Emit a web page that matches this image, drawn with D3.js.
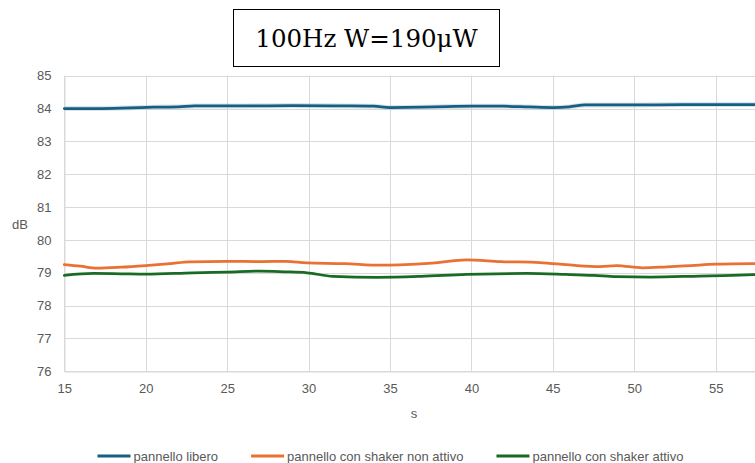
<!DOCTYPE html>
<html>
<head>
<meta charset="utf-8">
<script src="https://cdn.jsdelivr.net/npm/d3@7"></script>
<style>
  html, body { margin: 0; padding: 0; background: #fff; overflow: hidden; }
  svg { display: block; }
</style>
</head>
<body>
<svg id="chart" width="755" height="463"></svg>
<script>
// Sound level (dB) over time (s) for the three panel configurations
const titleText = "100Hz W=190μW";
const seriesNames = ["pannello libero", "pannello con shaker non attivo", "pannello con shaker attivo"];
const seriesColors = ["#156082", "#E97132", "#196B24"];

const liberoTime = [15, 17, 19, 20.5, 22, 23, 26, 29, 32, 34, 35, 37, 38.5, 40, 42, 43.5, 45, 46, 47, 50, 53, 55, 57.6];
const liberoDb   = [84.00, 84.00, 84.02, 84.04, 84.05, 84.08, 84.08, 84.09, 84.08, 84.07, 84.03, 84.04, 84.06, 84.07, 84.07, 84.05, 84.03, 84.05, 84.11, 84.11, 84.12, 84.12, 84.12];

const nonAttivoTime = [15, 16, 17, 18.5, 20, 21.5, 22.7, 25, 27, 28.6, 29.9, 32.2, 34.4, 35.6, 37.6, 39.7, 41.8, 44.2, 46.2, 47.9, 48.9, 50.5, 52, 53.5, 55, 57.6];
const nonAttivoDb   = [79.25, 79.20, 79.14, 79.17, 79.22, 79.28, 79.33, 79.35, 79.34, 79.35, 79.30, 79.28, 79.23, 79.24, 79.29, 79.39, 79.34, 79.31, 79.23, 79.19, 79.22, 79.15, 79.18, 79.22, 79.26, 79.28];

const attivoTime = [15, 16.8, 18.5, 20, 22.9, 25, 27, 28.5, 29.9, 31.5, 34.2, 36.9, 39.7, 41.5, 43.4, 45.8, 47.5, 48.9, 51, 54, 56, 57.6];
const attivoDb   = [78.92, 78.98, 78.97, 78.96, 79.00, 79.02, 79.05, 79.03, 79.00, 78.89, 78.86, 78.89, 78.95, 78.97, 78.98, 78.95, 78.92, 78.88, 78.87, 78.90, 78.92, 78.95];

const xTicks = [15, 20, 25, 30, 35, 40, 45, 50, 55];
const yTicks = [76, 77, 78, 79, 80, 81, 82, 83, 84, 85];
const xLabel = "s";
const yLabel = "dB";

const series = [
  { name: seriesNames[0], color: seriesColors[0], t: liberoTime, v: liberoDb },
  { name: seriesNames[1], color: seriesColors[1], t: nonAttivoTime, v: nonAttivoDb },
  { name: seriesNames[2], color: seriesColors[2], t: attivoTime, v: attivoDb }
];

const svg = d3.select("#chart");
const plot = { left: 64.3, top: 75.7, bottom: 371.3 };
const pxPerSecond = 16.285;

// The time axis runs past the right edge of the view (15 → 60 s)
const x = d3.scaleLinear().domain([15, 60]).range([plot.left, plot.left + 45 * pxPerSecond]);
const y = d3.scaleLinear().domain([76, 85]).range([plot.bottom, plot.top]);

const fontSans = "'Liberation Sans', Arial, sans-serif";
const labelColor = "#595959";
const gridColor = "#d9d9d9";

// Gridlines
const grid = svg.append("g");
grid.selectAll("line.h").data(yTicks).join("line")
  .attr("x1", plot.left).attr("x2", x(60))
  .attr("y1", d => Math.round(y(d)) + 0.5).attr("y2", d => Math.round(y(d)) + 0.5)
  .attr("stroke", gridColor).attr("stroke-width", 1);
grid.selectAll("line.v").data(xTicks).join("line")
  .attr("x1", d => Math.round(x(d)) + 0.5).attr("x2", d => Math.round(x(d)) + 0.5)
  .attr("y1", plot.top).attr("y2", plot.bottom)
  .attr("stroke", gridColor).attr("stroke-width", 1);

// Axes
const xAxis = d3.axisBottom(x).tickValues(xTicks).tickSize(0).tickPadding(12);
const gx = svg.append("g").attr("transform", `translate(0,${Math.round(plot.bottom) + 0.5})`).call(xAxis);
gx.select(".domain").attr("stroke", gridColor);
gx.selectAll("text").attr("fill", labelColor).style("font-family", fontSans).style("font-size", "13px");

const yAxis = d3.axisLeft(y).tickValues(yTicks).tickSize(0).tickPadding(13);
const gy = svg.append("g").attr("transform", `translate(${Math.round(plot.left) + 0.5},0)`).call(yAxis);
gy.select(".domain").attr("stroke", gridColor);
gy.selectAll("text").attr("fill", labelColor).style("font-family", fontSans).style("font-size", "13px");

// Axis titles
svg.append("text").attr("x", 414).attr("y", 418).attr("text-anchor", "middle")
  .attr("fill", labelColor).style("font-family", fontSans).style("font-size", "13px").text(xLabel);
svg.append("text").attr("x", 20).attr("y", 229).attr("text-anchor", "middle")
  .attr("fill", labelColor).style("font-family", fontSans).style("font-size", "13px").text(yLabel);

// Series lines
const line = d3.line().x(d => x(d[0])).y(d => y(d[1])).curve(d3.curveMonotoneX);
const linesG = svg.append("g");
series.forEach((s, i) => {
  const pts = s.t.map((t, k) => [t, s.v[k]]);
  if (i === 0) {
    linesG.append("path").attr("d", line(pts)).attr("fill", "none")
      .attr("stroke", "#b9c9d3").attr("stroke-opacity", 0.5).attr("stroke-width", 5);
  }
  linesG.append("path").attr("d", line(pts)).attr("fill", "none")
    .attr("stroke", s.color).attr("stroke-width", 2.75)
    .attr("stroke-linejoin", "round").attr("stroke-linecap", "round");
});

// Title box
const tb = svg.append("g");
tb.append("rect").attr("x", 233.5).attr("y", 9.5).attr("width", 266).attr("height", 57)
  .attr("fill", "#fff").attr("stroke", "#000").attr("stroke-width", 1);
tb.append("text").attr("x", 366.5).attr("y", 47).attr("text-anchor", "middle")
  .attr("fill", "#000").style("font-family", "'DejaVu Serif', serif").style("font-size", "24.5px")
  .text(titleText);

// Legend
const legend = svg.append("g");
const lineLen = 33, textGap = 3, itemGap = 33, legendY = 456, legendCenter = 390.5;
const items = series.map(s => {
  const g = legend.append("g");
  g.append("line").attr("x1", 0).attr("x2", lineLen).attr("y1", legendY).attr("y2", legendY)
    .attr("stroke", s.color).attr("stroke-width", 3);
  const t = g.append("text").attr("x", lineLen + textGap).attr("y", legendY + 4.5)
    .attr("fill", labelColor).style("font-family", fontSans).style("font-size", "13px").text(s.name);
  return { g, w: lineLen + textGap + t.node().getComputedTextLength() };
});
const total = d3.sum(items, d => d.w) + itemGap * (items.length - 1);
let cx = legendCenter - total / 2;
items.forEach(it => { it.g.attr("transform", `translate(${cx},0)`); cx += it.w + itemGap; });
</script>
</body>
</html>
